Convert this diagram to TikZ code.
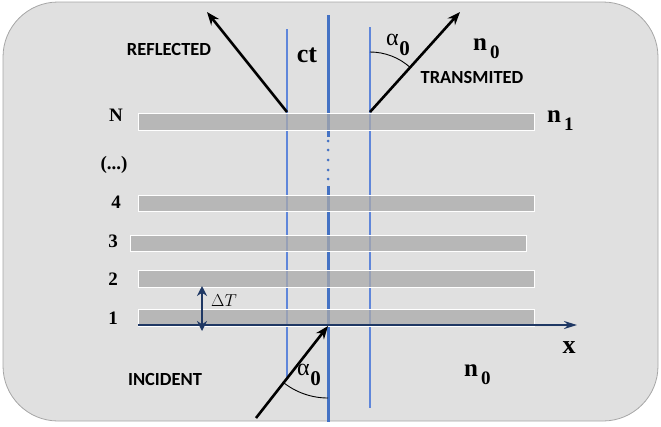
\documentclass[tikz,border=0pt]{standalone}
\usepackage{fontspec}
\setmainfont{Liberation Serif}
\newfontfamily\sanslab{Carlito}
\usetikzlibrary{arrows.meta}
\definecolor{bgfill}{HTML}{E0E0E0}
\definecolor{bgline}{HTML}{A6A6A6}
\definecolor{barfill}{HTML}{AAAAAA}
\definecolor{mainblue}{HTML}{4472C4}
\definecolor{thinblue}{HTML}{5F86DA}
\definecolor{navy}{HTML}{1F3864}
\tikzset{
  bar/.style={fill=barfill, fill opacity=0.75, draw=white, line width=0.9pt},
  thinline/.style={thinblue, line width=1.3pt},
  mainline/.style={mainblue, line width=3pt},
  ray/.style={black, line width=2.6pt, -{Stealth[length=13pt,width=10pt]}},
  axisline/.style={navy, line width=2pt, -{Stealth[length=13pt,width=8pt]}},
  dimarrow/.style={navy, line width=2.4pt, {Stealth[length=10pt,width=10pt]}-{Stealth[length=10pt,width=10pt]}},
  anglearc/.style={black, line width=0.9pt},
  layerlab/.style={font=\fontsize{19}{19}\selectfont\bfseries, inner sep=0pt},
  sanslabel/.style={font=\sanslab\fontsize{18.5}{18.5}\selectfont\bfseries, inner sep=0pt},
  biglab/.style={font=\fontsize{26}{26}\selectfont\bfseries, inner sep=0pt},
}
\newcommand{\nsub}[1]{{\fontsize{25}{25}\selectfont\bfseries n\kern3pt\raisebox{-8pt}{\fontsize{19}{19}\selectfont #1}}}
\newcommand{\alsub}{{\fontsize{24}{24}\selectfont α\kern0.5pt\raisebox{-10pt}{\fontsize{21}{21}\selectfont\bfseries 0}}}
\begin{document}
\begin{tikzpicture}[x=1pt,y=-1pt]
\useasboundingbox (0,0) rectangle (661,426);
% background
\draw[fill=bgfill, draw=bgline, line width=0.8pt, rounded corners=55pt] (3,2) rectangle (658,421);

% vertical lines
\coordinate (lt) at (287,29);  \coordinate (lb) at (287,378);
\coordinate (rt) at (370,27);  \coordinate (rb) at (370,408);
\draw[thinline] (lt) -- (lb);
\draw[thinline] (rt) -- (rb);
\coordinate (ctop) at (328,15); \coordinate (cdot1) at (328,137);
\coordinate (cdot2) at (328,186); \coordinate (cbot) at (328,422);
\draw[mainline] (ctop) -- (cdot1);
\draw[mainline] (cdot2) -- (cbot);
\foreach \yy in {141,150,160,170,179}{\fill[mainblue] (328,\yy) circle (1.5);}

% layers
\path[bar] (138,113) rectangle (534,130);
\path[bar] (138,195) rectangle (534,211);
\path[bar] (130,235) rectangle (526,251);
\path[bar] (138,270) rectangle (534,287);
\path[bar] (138,309) rectangle (534,326);

% axis
\coordinate (ax0) at (138,325); \coordinate (ax1) at (577,325);
\draw[axisline] (ax0) -- (ax1);

% thickness arrow
\coordinate (d0) at (202,286); \coordinate (d1) at (202,331);
\draw[dimarrow] (d0) -- (d1);
\node[inner sep=0pt, anchor=west] (dT) at (211,301) {\fontsize{17.5}{17.5}\selectfont$\Delta T$};

% rays
\coordinate (rfs) at (287,112); \coordinate (rfe) at (207,12);
\coordinate (trs) at (370,112); \coordinate (tre) at (460,12);
\coordinate (ins) at (256,418); \coordinate (ine) at (328,326);
\draw[ray] (rfs) -- (rfe);
\draw[ray] (trs) -- (tre);
\draw[ray] (ins) -- (ine);

% angle arcs
\draw[anglearc] (370,52) arc[start angle=-90, end angle=-48, radius=60];
\draw[anglearc] (328,398) arc[start angle=90, end angle=129, radius=72];

% labels
\node[sanslabel] (refl) at (169,49) {REFLECTED};
\node[sanslabel] (trans) at (472,77) {TRANSMITED};
\node[sanslabel] (inc) at (165,379) {INCIDENT};
\node[biglab, anchor=base] (ct) at (307,62) {ct};
\node[biglab, anchor=base] (xl) at (569,353) {x};
\node[inner sep=0pt, anchor=base west] (n0t) at (473,50) {\nsub{0}};
\node[inner sep=0pt, anchor=base west] (n1) at (547,122) {\nsub{1}};
\node[inner sep=0pt, anchor=base west] (n0b) at (464,376) {\nsub{0}};
\node[inner sep=0pt, anchor=base west] (a0t) at (386,45) {\alsub};
\node[inner sep=0pt, anchor=base west] (a0b) at (297,375) {\alsub};

\node[layerlab] (lN) at (116,115) {N};
\node[layerlab] (ldots) at (114,165) {(...)};
\node[layerlab] (l4) at (116,202) {4};
\node[layerlab] (l3) at (113,241) {3};
\node[layerlab] (l2) at (113,279) {2};
\node[layerlab] (l1) at (113,318) {1};
\end{tikzpicture}
\end{document}
